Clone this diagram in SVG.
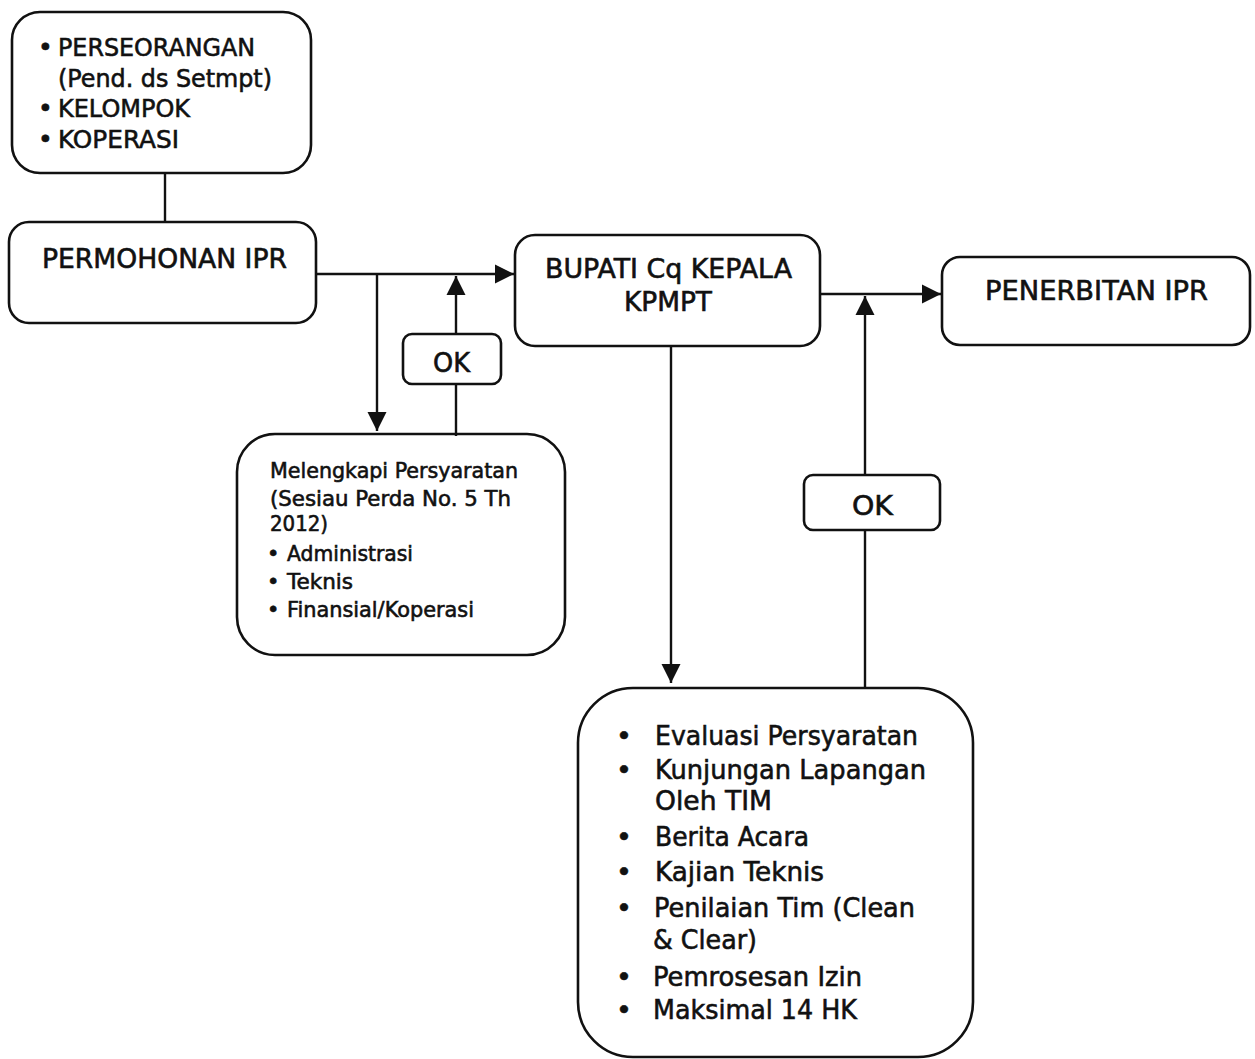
<svg xmlns="http://www.w3.org/2000/svg" width="1255" height="1059" viewBox="0 0 1255 1059">
<defs>
<style>
.box{fill:none;stroke:#111;stroke-width:2.6}
.ln{fill:none;stroke:#111;stroke-width:2.4}
text{font-family:"DejaVu Sans","Liberation Sans",sans-serif;fill:#111;stroke:#111;stroke-width:0.6}
.t25{font-size:25px}
.t26{font-size:26px}
.t21{font-size:21px}
.t27{font-size:27px}
</style>
<marker id="ah2" viewBox="0 0 10 10" refX="10" refY="5" markerWidth="8" markerHeight="8" orient="auto" markerUnits="strokeWidth">
<path d="M0,0 L10,5 L0,10 z" fill="#111"/>
</marker>
</defs>
<rect width="1255" height="1059" fill="#fff"/>

<g id="connectors">
<line class="ln" x1="165" y1="173" x2="165" y2="222"/>
<line class="ln" x1="316" y1="274" x2="514" y2="274" marker-end="url(#ah2)"/>
<line class="ln" x1="377" y1="274" x2="377" y2="431" marker-end="url(#ah2)"/>
<line class="ln" x1="456" y1="436" x2="456" y2="384"/>
<line class="ln" x1="456" y1="334" x2="456" y2="276" marker-end="url(#ah2)"/>
<line class="ln" x1="820" y1="294" x2="941" y2="294" marker-end="url(#ah2)"/>
<line class="ln" x1="865" y1="688" x2="865" y2="530"/>
<line class="ln" x1="865" y1="475" x2="865" y2="296" marker-end="url(#ah2)"/>
<line class="ln" x1="671" y1="346" x2="671" y2="683" marker-end="url(#ah2)"/>
</g>

<g id="node-pemohon">
<rect class="box" x="12" y="12" width="299" height="161" rx="28"/>
<text class="t25" x="38" y="56">•</text>
<text class="t25" x="58" y="56" textLength="197" lengthAdjust="spacingAndGlyphs">PERSEORANGAN</text>
<text class="t25" x="58" y="87" textLength="214" lengthAdjust="spacingAndGlyphs">(Pend. ds Setmpt)</text>
<text class="t25" x="38" y="117">•</text>
<text class="t25" x="58" y="117" textLength="132" lengthAdjust="spacingAndGlyphs">KELOMPOK</text>
<text class="t25" x="38" y="148">•</text>
<text class="t25" x="58" y="148" textLength="121" lengthAdjust="spacingAndGlyphs">KOPERASI</text>
</g>

<g id="node-permohonan">
<rect class="box" x="9" y="222" width="307" height="101" rx="20"/>
<text class="t26" x="42" y="268" textLength="245" lengthAdjust="spacingAndGlyphs">PERMOHONAN IPR</text>
</g>

<g id="node-ok1">
<rect class="box" x="403" y="334" width="98" height="50" rx="9"/>
<text class="t26" x="433" y="372" textLength="37" lengthAdjust="spacingAndGlyphs">OK</text>
</g>

<g id="node-melengkapi">
<rect class="box" x="237" y="434" width="328" height="221" rx="38"/>
<text class="t21" x="270" y="478" textLength="248" lengthAdjust="spacingAndGlyphs">Melengkapi Persyaratan</text>
<text class="t21" x="270" y="506" textLength="241" lengthAdjust="spacingAndGlyphs">(Sesiau Perda No. 5 Th</text>
<text class="t21" x="270" y="531" textLength="58" lengthAdjust="spacingAndGlyphs">2012)</text>
<text class="t21" x="267" y="561">•</text>
<text class="t21" x="287" y="561" textLength="126" lengthAdjust="spacingAndGlyphs">Administrasi</text>
<text class="t21" x="267" y="589">•</text>
<text class="t21" x="287" y="589" textLength="66" lengthAdjust="spacingAndGlyphs">Teknis</text>
<text class="t21" x="267" y="617">•</text>
<text class="t21" x="287" y="617" textLength="187" lengthAdjust="spacingAndGlyphs">Finansial/Koperasi</text>
</g>

<g id="node-bupati">
<rect class="box" x="515" y="235" width="305" height="111" rx="20"/>
<text class="t26" x="545" y="278" textLength="247" lengthAdjust="spacingAndGlyphs">BUPATI Cq KEPALA</text>
<text class="t26" x="624" y="311" textLength="88" lengthAdjust="spacingAndGlyphs">KPMPT</text>
</g>

<g id="node-penerbitan">
<rect class="box" x="942" y="257" width="308" height="88" rx="18"/>
<text class="t26" x="985" y="300" textLength="223" lengthAdjust="spacingAndGlyphs">PENERBITAN IPR</text>
</g>

<g id="node-ok2">
<rect class="box" x="804" y="475" width="136" height="55" rx="9"/>
<text class="t26" x="852" y="515" textLength="41" lengthAdjust="spacingAndGlyphs">OK</text>
</g>

<g id="node-evaluasi">
<rect class="box" x="578" y="688" width="395" height="369" rx="55"/>
<text class="t27" x="616" y="745">•</text>
<text class="t27" x="655" y="745" textLength="263" lengthAdjust="spacingAndGlyphs">Evaluasi Persyaratan</text>
<text class="t27" x="616" y="779">•</text>
<text class="t27" x="655" y="779" textLength="271" lengthAdjust="spacingAndGlyphs">Kunjungan Lapangan</text>
<text class="t27" x="655" y="810" textLength="117" lengthAdjust="spacingAndGlyphs">Oleh TIM</text>
<text class="t27" x="616" y="846">•</text>
<text class="t27" x="655" y="846" textLength="154" lengthAdjust="spacingAndGlyphs">Berita Acara</text>
<text class="t27" x="616" y="881">•</text>
<text class="t27" x="655" y="881" textLength="169" lengthAdjust="spacingAndGlyphs">Kajian Teknis</text>
<text class="t27" x="616" y="917">•</text>
<text class="t27" x="654" y="917" textLength="261" lengthAdjust="spacingAndGlyphs">Penilaian Tim (Clean</text>
<text class="t27" x="653" y="949" textLength="104" lengthAdjust="spacingAndGlyphs">&amp; Clear)</text>
<text class="t27" x="616" y="986">•</text>
<text class="t27" x="653" y="986" textLength="209" lengthAdjust="spacingAndGlyphs">Pemrosesan Izin</text>
<text class="t27" x="616" y="1019">•</text>
<text class="t27" x="653" y="1019" textLength="204" lengthAdjust="spacingAndGlyphs">Maksimal 14 HK</text>
</g>
</svg>
